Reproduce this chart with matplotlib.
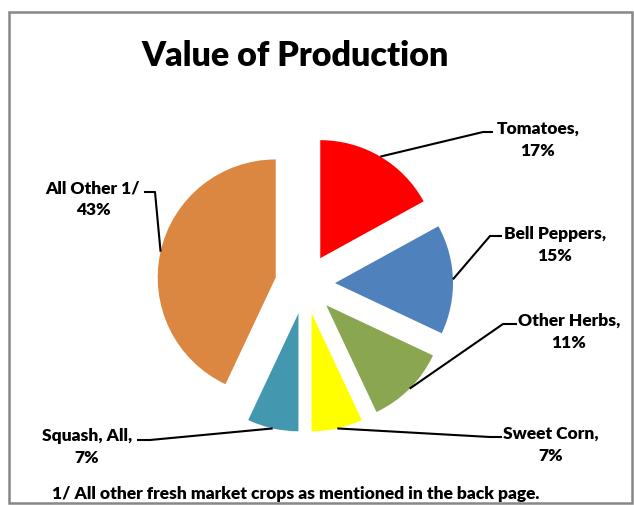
import matplotlib.pyplot as plt
from matplotlib.patches import Rectangle
import numpy as np

# values
crops = ["Tomatoes", "Bell Peppers", "Other Herbs", "Sweet Corn", "Squash, All", "All Other 1/"]
shares = [17, 15, 11, 7, 7, 43]
colors = ["#FF0000", "#4F81BD", "#8BA650", "#FFFF00", "#4398B0", "#DB8641"]
label_text = ["Tomatoes,", "Bell Peppers,", "Other Herbs,", "Sweet Corn,", "Squash, All,", "All Other 1/"]

W, H = 634, 506

# label placement (image pixels, y down): text centre, elbow point, line end
LABEL_POS = [(538, 140), (555, 245), (569, 332), (551, 445), (87, 447), (93, 199)]
ELBOWS = [(483, 133), (490, 237), (503, 325), (490, 438), (150, 441), (155, 193)]
ENDS = [(493, 133), (502, 237), (517, 325), (502, 438), (137, 441), (144, 193)]

plt.rcParams["font.family"] = ["Lato", "DejaVu Sans"]

fig = plt.figure(figsize=(W / 100, H / 100), dpi=100)
ax = fig.add_axes([0, 0, 1, 1])

cx, cy, rad = 305, H - 285, 118
wedges, _ = ax.pie(shares, colors=colors, startangle=90, counterclock=False,
                   center=(cx, cy), radius=rad, explode=[30] * len(shares),
                   wedgeprops=dict(linewidth=0), frame=True)
ax.set_xlim(0, W)
ax.set_ylim(0, H)
ax.set_aspect("auto")
ax.axis("off")

for w, txt, pct, (lx, ly), (ex, ey), (fx, fy) in zip(wedges, label_text, shares, LABEL_POS, ELBOWS, ENDS):
    mid = np.deg2rad((w.theta1 + w.theta2) / 2)
    sx = w.center[0] + w.r * np.cos(mid)
    sy = w.center[1] + w.r * np.sin(mid)
    ax.plot([sx, ex, fx], [sy, H - ey, H - fy], color="black", lw=1.5, solid_capstyle="butt")
    ax.text(lx, H - ly, f"{txt}\n{pct}%", ha="center", va="center", fontsize=12.5,
            fontweight="heavy", linespacing=1.45)

ax.text(295, H - 56, "Value of Production", ha="center", va="center",
        fontsize=24.5, fontweight="heavy")
ax.text(296, H - 494, "1/ All other fresh market crops as mentioned in the back page.",
        ha="center", va="center", fontsize=12.5, fontweight="heavy")

fig.patches.append(Rectangle((9 / W, 1 - 504 / H), 623 / W, 491 / H, transform=fig.transFigure,
                             fill=False, edgecolor="#878787", linewidth=1.8))

fig.savefig("out.png", dpi=100)
